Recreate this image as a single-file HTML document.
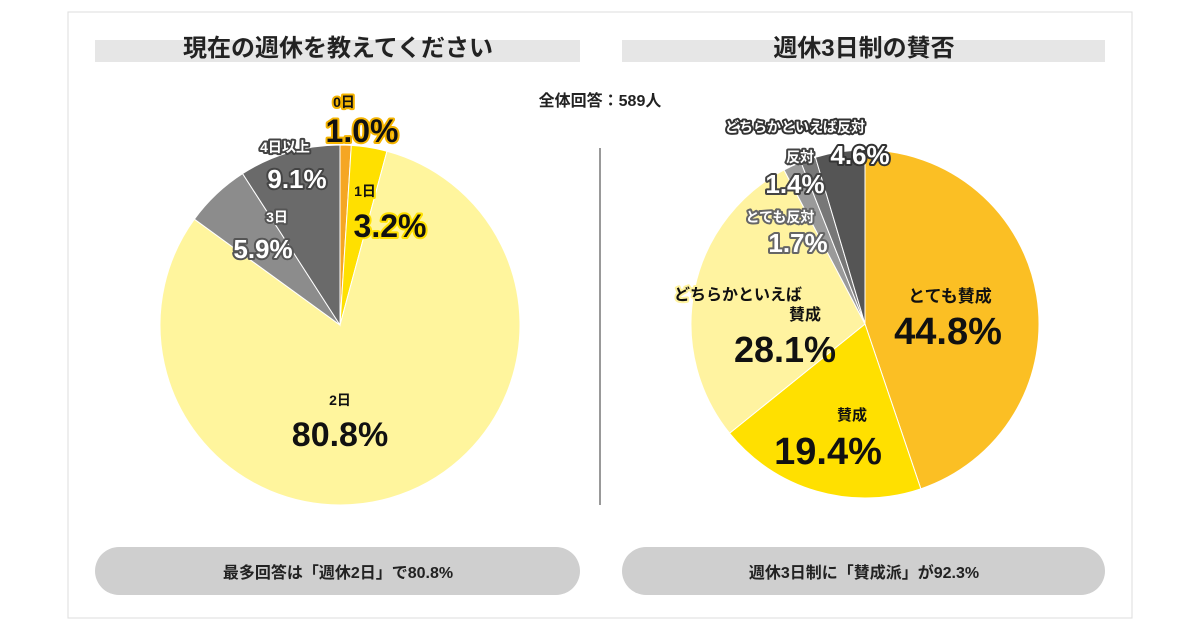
<!DOCTYPE html>
<html><head><meta charset="utf-8"><style>
body{margin:0;background:#fff}
svg{display:block;font-family:"Liberation Sans","Noto Sans CJK JP",sans-serif;font-weight:bold}
.o{paint-order:stroke;stroke-linejoin:round}
.n{font-family:"Liberation Sans Narrow","Liberation Sans","Noto Sans CJK JP",sans-serif}
</style></head><body>
<svg width="1200" height="630" viewBox="0 0 1200 630">
<rect x="68" y="12" width="1064" height="606" fill="#fff" stroke="#ddd"/>
<rect x="95" y="40" width="485" height="22" fill="#e6e6e6"/>
<text x="338" y="56" font-size="24" text-anchor="middle" fill="#222">現在の週休を教えてください</text>
<rect x="622" y="40" width="483" height="22" fill="#e6e6e6"/>
<text x="864" y="56" font-size="24" text-anchor="middle" fill="#222">週休3日制の賛否</text>
<text x="600" y="106" font-size="16" text-anchor="middle" fill="#222">全体回答：589人</text>
<line x1="600" y1="148" x2="600" y2="505" stroke="#999" stroke-width="2"/>
<g id="left"></g>
<g id="right"></g>
<g id="labels"></g>
<rect x="95" y="547" width="485" height="48" rx="24" fill="#cfcfcf"/>
<text x="338" y="578" font-size="16" text-anchor="middle" fill="#222">最多回答は「週休2日」で80.8%</text>
<rect x="622" y="547" width="483" height="48" rx="24" fill="#cfcfcf"/>
<text x="864" y="578" font-size="16" text-anchor="middle" fill="#222">週休3日制に「賛成派」が92.3%</text>
</svg>
<script>
const leftCats=["0日","1日","2日","3日","4日以上"];
const leftVals=[1.0,3.2,80.8,5.9,9.1];
const leftColors=["#f5a623","#ffe000","#fff59d","#8c8c8c","#6a6a6a"];
const rightCats=["とても賛成","賛成","どちらかといえば賛成","とても反対","反対","どちらかといえば反対"];
const rightVals=[44.8,19.4,28.1,1.7,1.4,4.6];
const rightColors=["#fbbf24","#ffe000","#fff3a0","#9a9a9a","#777","#555"];
const NS="http://www.w3.org/2000/svg";
function pie(g,vals,colors,cx,cy,r,names){
  const tot=vals.reduce((a,b)=>a+b,0);let a=0;
  vals.forEach((v,i)=>{
    const a0=a/tot*2*Math.PI,a1=(a+v)/tot*2*Math.PI;a+=v;
    const x0=cx+r*Math.sin(a0),y0=cy-r*Math.cos(a0),x1=cx+r*Math.sin(a1),y1=cy-r*Math.cos(a1);
    const p=document.createElementNS(NS,"path");
    p.setAttribute("d",`M${cx},${cy}L${x0},${y0}A${r},${r} 0 ${a1-a0>Math.PI?1:0} 1 ${x1},${y1}Z`);
    p.setAttribute("fill",colors[i]);p.setAttribute("stroke","#fff");p.setAttribute("stroke-width","1");
    
    
    g.appendChild(p);
  });
}
pie(document.getElementById("left"),leftVals,leftColors,340,325,180,leftCats);
pie(document.getElementById("right"),rightVals,rightColors,865,324,174,rightCats);
const L=document.getElementById("labels");
function lab(x,y,t,size,fill,stroke,name,narrow){
  const e=document.createElementNS(NS,"text");
  e.setAttribute("x",x);e.setAttribute("y",y);e.setAttribute("font-size",size);
  e.setAttribute("text-anchor","middle");e.setAttribute("fill",fill);
  let cls=narrow?"n":"";
  if(stroke){e.setAttribute("stroke",stroke);e.setAttribute("stroke-width","4");cls+=" o";}
  if(cls)e.setAttribute("class",cls.trim());
  e.textContent=t;
  
  
  L.appendChild(e);
}
function f(v){return v.toFixed(1)+"%";}
lab(344,107,leftCats[0],14,"#111","#f5b400","label-0day");
lab(362,142,f(leftVals[0]),32,"#111","#f5b400","value-0day",1);
lab(365,196,leftCats[1],14,"#111","#ffe000","label-1day");
lab(390,237,f(leftVals[1]),32,"#111","#ffe000","value-1day",1);
lab(340,405,leftCats[2],14,"#111",null,"label-2day");
lab(340,446,f(leftVals[2]),34,"#111",null,"value-2day",1);
lab(277,222,leftCats[3],14,"#fff","#555","label-3day");
lab(263,258,f(leftVals[3]),26,"#fff","#555","value-3day",1);
lab(285,152,leftCats[4],14,"#fff","#444","label-4day");
lab(297,188,f(leftVals[4]),26,"#fff","#444","value-4day",1);
lab(795,132,rightCats[5],14,"#fff","#333","label-somewhat-against");
lab(860,164,f(rightVals[5]),26,"#fff","#333","value-somewhat-against",1);
lab(800,162,rightCats[4],14,"#fff","#444","label-against");
lab(795,193,f(rightVals[4]),26,"#fff","#444","value-against",1);
lab(780,222,rightCats[3],14,"#fff","#666","label-strongly-against");
lab(798,252,f(rightVals[3]),26,"#fff","#666","value-strongly-against",1);
lab(738,300,"どちらかといえば",16,"#111","#fff3a0","label-somewhat-agree");
lab(805,320,"賛成",16,"#111","#fff3a0","label-somewhat-agree-2");
lab(785,362,f(rightVals[2]),36,"#111",null,"value-somewhat-agree",1);
lab(950,302,rightCats[0],17,"#111",null,"label-strongly-agree");
lab(948,344,f(rightVals[0]),38,"#111",null,"value-strongly-agree",1);
lab(852,420,rightCats[1],15,"#111",null,"label-agree");
lab(828,464,f(rightVals[1]),38,"#111",null,"value-agree",1);
</script>
</body></html>
